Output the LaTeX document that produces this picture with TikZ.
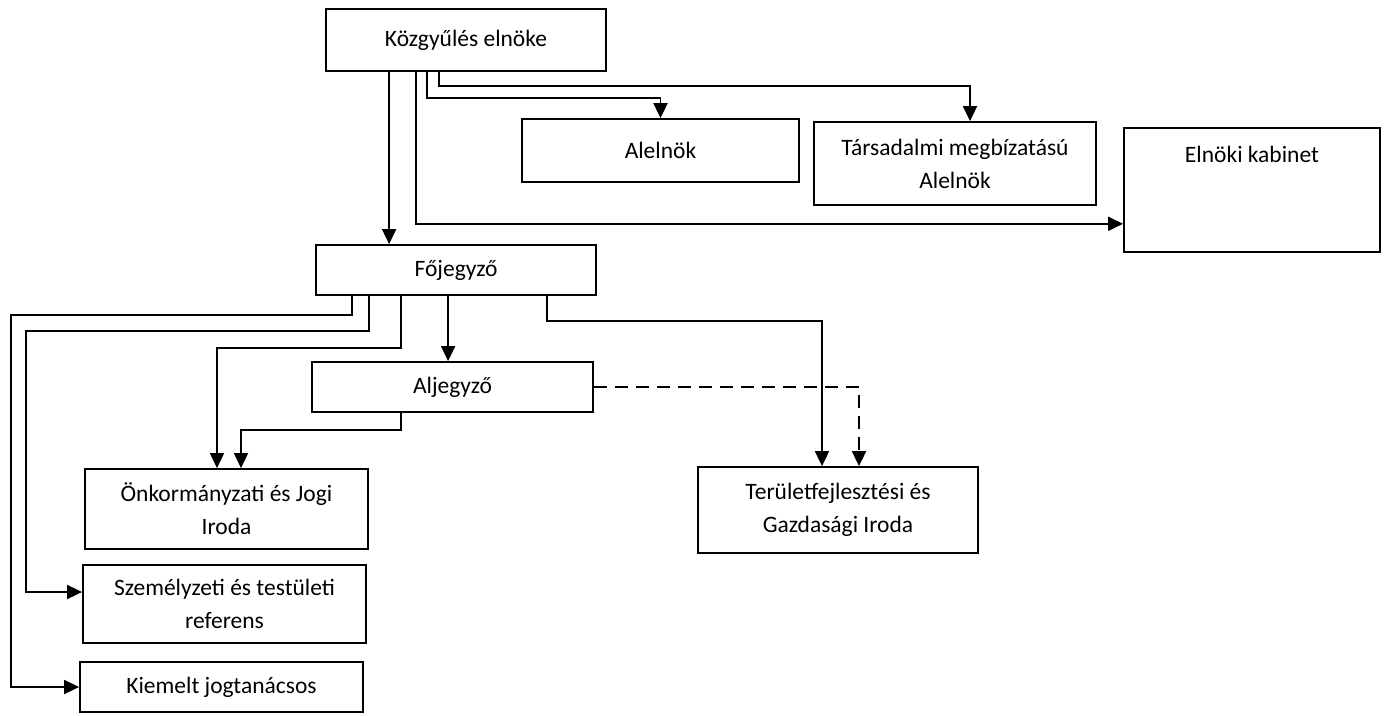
\documentclass[tikz,border=0pt]{standalone}
\usepackage{fontspec}
\setmainfont{Carlito}
\usetikzlibrary{arrows.meta}

\tikzset{
    unit/.style={draw, line width=1.8pt, inner sep=0pt, align=center, font=\fontsize{23.5}{33}\selectfont},
    link/.style={line width=1.8pt, -{Triangle[length=15pt,width=14pt]}},
}

\begin{document}
\begin{tikzpicture}[x=1pt, y=-1pt]
    \useasboundingbox (0,0) rectangle (1388,715);

    % boxes
    \node[unit, minimum width=280pt, minimum height=62pt] (kozgy) at (466,40) {Közgyűlés elnöke};
    \node[unit, minimum width=277pt, minimum height=63pt] (alel) at (660.5,150.5) {Alelnök};
    \node[unit, minimum width=282pt, minimum height=83pt] (tars) at (955,163.5) {Társadalmi megbízatású\\Alelnök};
    \node[unit, minimum width=256pt, text height=35pt, text depth=89pt] (elnoki) at (1252,127) [anchor=north] {Elnöki kabinet};
    \node[unit, minimum width=280pt, minimum height=50pt] (foj) at (456,270) {Főjegyző};
    \node[unit, minimum width=281pt, minimum height=50pt] (alj) at (452.5,387) {Aljegyző};
    \node[unit, minimum width=283pt, minimum height=80pt] (onk) at (226.5,509) {Önkormányzati és Jogi\\Iroda};
    \node[unit, minimum width=283pt, minimum height=78pt] (szem) at (224.5,604) {Személyzeti és testületi\\referens};
    \node[unit, minimum width=283pt, minimum height=50pt] (kiem) at (221.5,687) {Kiemelt jogtanácsos};
    \node[unit, minimum width=280pt, minimum height=86pt] (ter) at (838,510) {Területfejlesztési és\\Gazdasági Iroda};

    % taps
    \coordinate (k1) at ([xshift=64pt]kozgy.south west);
    \coordinate (k2) at ([xshift=91pt]kozgy.south west);
    \coordinate (k3) at ([xshift=102pt]kozgy.south west);
    \coordinate (k4) at ([xshift=114pt]kozgy.south west);
    \coordinate (f1) at ([xshift=37pt]foj.south west);
    \coordinate (f2) at ([xshift=54pt]foj.south west);
    \coordinate (f3) at ([xshift=86pt]foj.south west);
    \coordinate (f4) at ([xshift=133pt]foj.south west);
    \coordinate (f5) at ([xshift=232pt]foj.south west);
    \coordinate (a1) at ([xshift=90pt]alj.south west);

    % Közgyűlés elnöke
    \draw[link] (k1) -- (k1 |- foj.north);
    \draw[link] (k2) |- ([yshift=29pt]elnoki.south west);
    \draw[link] (k3) -- ++(0,26) -| (alel.north);
    \draw[link] (k4) -- ++(0,14) -| ([xshift=15pt]tars.north);

    % Főjegyző
    \draw[link] (f1) -- ++(0,19) -- ++(-341,0) |- (kiem.west);
    \draw[link] (f2) -- ++(0,35) -- ++(-343,0) |- ([yshift=12pt]szem.west);
    \draw[link] (f3) -- ++(0,52) -| ([xshift=-9.5pt]onk.north);
    \draw[link] (f4) -- (f4 |- alj.north);
    \draw[link] (f5) -- ++(0,25) -| ([xshift=-16pt]ter.north);

    % Aljegyző
    \draw[link] (a1) -- ++(0,17) -| ([xshift=14.5pt]onk.north);
    \draw[link, dash pattern=on 13pt off 8pt] (alj.east) -| ([xshift=21pt]ter.north);
\end{tikzpicture}
\end{document}
